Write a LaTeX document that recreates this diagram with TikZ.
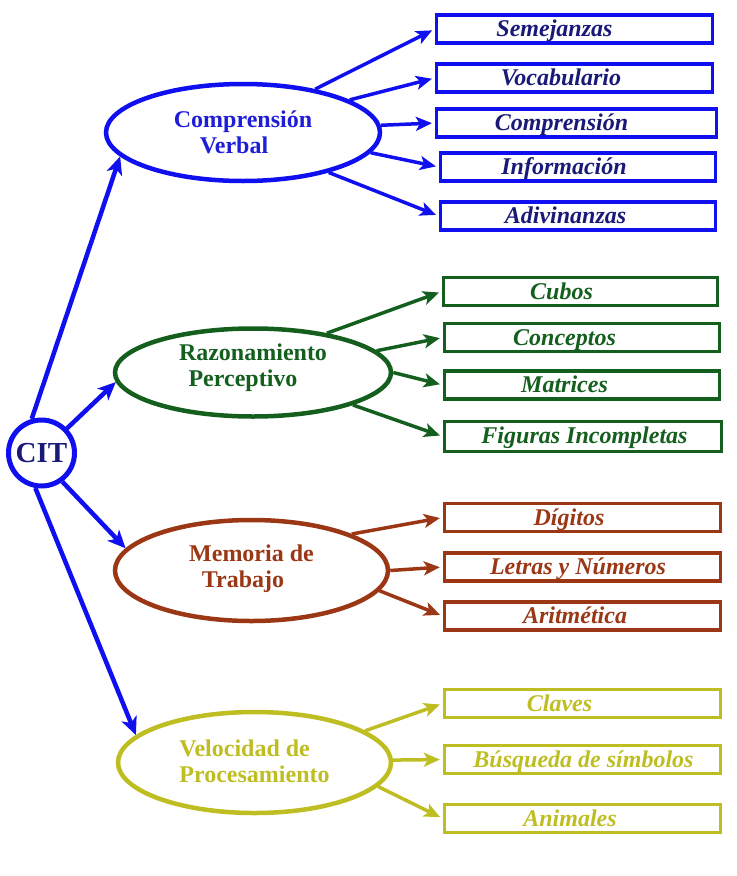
\documentclass[tikz,border=0pt]{standalone}
\usepackage{fontspec}
\setmainfont{Liberation Serif}
\usetikzlibrary{arrows.meta,shapes.geometric}

\definecolor{cblue}{RGB}{15,15,240}
\definecolor{cbluetxt}{RGB}{30,30,215}
\definecolor{cnavy}{RGB}{25,25,120}
\definecolor{cgreen}{RGB}{20,95,30}
\definecolor{cbrown}{RGB}{155,55,20}
\definecolor{cyellow}{RGB}{190,190,35}

\begin{document}
\begin{tikzpicture}[x=1bp,y=-1bp,
  ell/.style={draw=#1, ellipse, line width=4.5bp, inner sep=0pt, text=#1,
    font=\fontsize{24bp}{26.5bp}\selectfont\bfseries, align=center},
  box/.style={draw=#1, rectangle, line width=3.3bp, minimum height=28bp, inner sep=0pt},
  btxt/.style={text=#1, anchor=base, inner sep=0pt,
    font=\fontsize{24bp}{26bp}\selectfont\bfseries\itshape},
  arr/.style={draw=#1, line width=3.5bp, -{Stealth[length=16bp,width=14bp,inset=4bp]}, shorten >=3bp},
  carr/.style={draw=cblue, line width=4.5bp, -{Stealth[length=18bp,width=16bp,inset=5bp]}},
]
\useasboundingbox (0,0) rectangle (737,876);

% central node
\node[draw=cblue, circle, line width=5bp, minimum size=66bp, inner sep=0pt,
  text=cnavy, font=\fontsize{29bp}{30bp}\selectfont\bfseries] (cit) at (41.5,453) {CIT};

% ellipses
\node[ell=cblue, text=cbluetxt, minimum width=274bp, minimum height=97bp, text depth=1bp]
  (cv) at (243,132.5) {Comprensión\\Verbal\hspace*{18bp}};
\node[ell=cgreen, minimum width=276bp, minimum height=88bp, text depth=15bp]
  (rp) at (253,372.5) {Razonamiento\\Perceptivo\hspace*{20bp}};
\node[ell=cbrown, minimum width=273bp, minimum height=101bp, text depth=9bp]
  (mt) at (251.5,570.5) {Memoria de\\Trabajo\hspace*{17bp}};
\node[ell=cyellow, align=left, minimum width=273bp, minimum height=101bp, text depth=3bp]
  (vp) at (254.5,762.5) {Velocidad de\\Procesamiento};

% blue boxes
\node[box=cblue, minimum width=276bp] (sem) at (574.5,29) {};
\node[box=cblue, minimum width=276bp] (voc) at (574.5,78) {};
\node[box=cblue, minimum width=280bp] (comp) at (576.5,123) {};
\node[box=cblue, minimum width=275bp] (inf) at (578,167) {};
\node[box=cblue, minimum width=275bp] (adiv) at (578,216) {};
\node[btxt=cnavy] (semt) at (554.5,36.5) {Semejanzas};
\node[btxt=cnavy] (voct) at (561,85.5) {Vocabulario};
\node[btxt=cnavy] (compt) at (561.5,130.5) {Comprensión};
\node[btxt=cnavy] (inft) at (564,174.5) {Información};
\node[btxt=cnavy] (adivt) at (565.5,223.5) {Adivinanzas};

% green boxes
\node[box=cgreen, minimum width=274bp] (cub) at (580.5,291.5) {};
\node[box=cgreen, minimum width=275bp] (con) at (582,337.5) {};
\node[box=cgreen, minimum width=275bp] (mat) at (582,385) {};
\node[box=cgreen, minimum width=277bp, minimum height=30bp] (fig) at (583,436.5) {};
\node[btxt=cgreen] (cubt) at (561.5,299) {Cubos};
\node[btxt=cgreen] (cont) at (564.5,345) {Conceptos};
\node[btxt=cgreen] (matt) at (564.5,392.5) {Matrices};
\node[btxt=cgreen] (figt) at (584.5,443.5) {Figuras Incompletas};

% brown boxes
\node[box=cbrown, minimum width=276bp] (dig) at (582.5,517.5) {};
\node[box=cbrown, minimum width=276bp] (let) at (582.5,567) {};
\node[box=cbrown, minimum width=276bp] (ari) at (582.5,616) {};
\node[btxt=cbrown] (digt) at (569,525) {Dígitos};
\node[btxt=cbrown] (lett) at (578,574.5) {Letras y Números};
\node[btxt=cbrown] (arit) at (575,623.5) {Aritmética};

% yellow boxes
\node[box=cyellow, minimum width=276bp] (cla) at (582.5,703.5) {};
\node[box=cyellow, minimum width=276bp] (bus) at (582.5,759.5) {};
\node[box=cyellow, minimum width=276bp] (ani) at (582.5,818.5) {};
\node[btxt=cyellow] (clat) at (559.5,711) {Claves};
\node[btxt=cyellow] (bust) at (583.5,767) {Búsqueda de símbolos};
\node[btxt=cyellow] (anit) at (570,826) {Animales};

% CIT arrows
\draw[carr] (cit.106) -- (cv.191);
\draw[carr] (cit.44) -- (rp.184);
\draw[carr] (cit.-54) -- (mt.170);
\draw[carr] (cit.-100) -- (vp.167);

% blue arrows
\draw[arr=cblue] (cv.31) -- (sem.west);
\draw[arr=cblue] (cv.17) -- (voc.west);
\draw[arr=cblue] (cv.3.5) -- (comp.west);
\draw[arr=cblue] (cv.-9.5) -- (inf.west);
\draw[arr=cblue] (cv.-25) -- (adiv.west);

% green arrows
\draw[arr=cgreen] (rp.28) -- (cub.west);
\draw[arr=cgreen] (rp.10.4) -- (con.west);
\draw[arr=cgreen] (rp.0) -- (mat.west);
\draw[arr=cgreen] (rp.-18) -- (fig.west);

% brown arrows
\draw[arr=cbrown] (mt.20) -- (dig.west);
\draw[arr=cbrown] (mt.0) -- (let.west);
\draw[arr=cbrown] (mt.-9.3) -- (ari.west);

% yellow arrows
\draw[arr=cyellow] (vp.16) -- (cla.west);
\draw[arr=cyellow] (vp.1) -- (bus.west);
\draw[arr=cyellow] (vp.-11.3) -- (ani.west);
\end{tikzpicture}
\end{document}
